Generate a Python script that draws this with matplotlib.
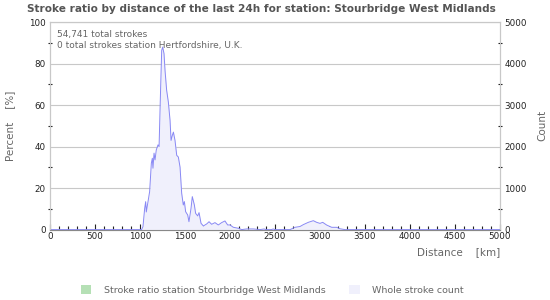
import matplotlib
matplotlib.use("Agg")
import matplotlib.pyplot as plt
from matplotlib.patches import Patch
from matplotlib.ticker import MultipleLocator

title = "Stroke ratio by distance of the last 24h for station: Stourbridge West Midlands"
info_lines = ["54,741 total strokes", "0 total strokes station Hertfordshire, U.K."]
legend_labels = ["Stroke ratio station Stourbridge West Midlands", "Whole stroke count"]

# Whole stroke count by distance (km)
distance_km = [0, 1018, 1033, 1052, 1063, 1070, 1089, 1107, 1126, 1137, 1144, 1156, 1167,
               1181, 1200, 1212, 1226, 1241, 1252, 1267, 1278, 1296, 1315, 1334, 1345, 1359,
               1371, 1389, 1408, 1426, 1445, 1463, 1481, 1493, 1507, 1530, 1544, 1567, 1581,
               1604, 1618, 1641, 1656, 1678, 1704, 1741, 1767, 1796, 1833, 1870, 1907, 1944,
               1974, 2000, 2037, 2093, 2130, 2185, 2260, 2333, 2380, 2400, 2460, 2480, 2500,
               2667, 2722, 2778, 2815, 2870, 2926, 2963, 3000, 3030, 3074, 3130, 3185, 3222,
               3278, 5000]
stroke_count = [0, 0, 70, 514, 674, 425, 674, 915, 1600, 1720, 1480, 1843, 1680,
                1923, 2043, 2000, 3160, 4320, 4400, 4240, 3840, 3360, 3075, 2630, 2150, 2270,
                2350, 2150, 1790, 1750, 1505, 877, 594, 675, 432, 352, 191, 514, 795,
                594, 392, 330, 410, 152, 88, 136, 190, 128, 168, 112, 168, 208,
                112, 112, 56, 32, 0, 16, 16, 0, 15, 0, 0, 15, 0,
                0, 55, 75, 120, 175, 215, 175, 150, 175, 110, 55, 55, 20,
                0, 0]
# Stroke ratio station (percent) - all zero
ratio_pct = [0 for _ in distance_km]

fig = plt.figure(figsize=(5.5, 3.0), dpi=100)
ax = fig.add_axes([50/550, 1-229.6/300, 450/550, (229.6-22.2)/300])
ax2 = ax.twinx()

txt = "#666666"
tickc = "#222222"

ax2.fill_between(distance_km, stroke_count, 0, color="#f0f0fc", lw=0)
ax2.plot(distance_km, stroke_count, color="#8888f4", lw=0.7)
ax.plot(distance_km, ratio_pct, color="#b5e0b5", lw=0)

ax.set_xlim(0, 5000)
ax.set_ylim(0, 100)
ax2.set_ylim(0, 5000)
ax.set_zorder(ax2.get_zorder() - 1)
ax2.patch.set_visible(False)

ax.xaxis.set_major_locator(MultipleLocator(500))
ax.xaxis.set_minor_locator(MultipleLocator(100))
ax.yaxis.set_major_locator(MultipleLocator(20))
ax.yaxis.set_minor_locator(MultipleLocator(10))
ax2.yaxis.set_major_locator(MultipleLocator(1000))
ax2.yaxis.set_minor_locator(MultipleLocator(500))

ax.grid(axis="y", which="major", color="#c8c8c8", lw=0.8)
ax.tick_params(axis="x", which="major", direction="in", length=4.5, width=0.8, color=tickc,
               labelsize=6.3, labelcolor=tickc, pad=2)
ax.tick_params(axis="x", which="minor", direction="in", length=3, width=0.8, color=tickc)
ax.tick_params(axis="y", which="major", direction="in", length=0, labelsize=6.3, labelcolor=tickc, pad=3)
ax.tick_params(axis="y", which="minor", direction="inout", length=3, width=0.8, color=tickc)
ax2.tick_params(axis="y", which="major", direction="in", length=0, labelsize=6.3, labelcolor=tickc, pad=3)
ax2.tick_params(axis="y", which="minor", direction="inout", length=3, width=0.8, color=tickc)

for a in (ax, ax2):
    for s in a.spines.values():
        s.set_color("#c8c8c8")
        s.set_linewidth(0.8)
ax2.spines["bottom"].set_color("#888888")

ax.set_xlabel("Distance    [km]", fontsize=7.5, color=txt, loc="right", labelpad=4)
ax.set_ylabel("Percent    [%]", fontsize=7.5, color=txt, labelpad=10)
ax2.set_ylabel("Count", fontsize=7.5, color=txt, labelpad=8)

ax.text(0.016, 0.96, info_lines[0], transform=ax.transAxes, fontsize=6.5, color=txt, va="top")
ax.text(0.016, 0.91, info_lines[1], transform=ax.transAxes, fontsize=6.5, color=txt, va="top")

fig.text(261/550, 1-9/300, title, fontsize=7.6, fontweight="bold", color="#555555", ha="center", va="center")

handles = [Patch(facecolor="#b5e0b5", edgecolor="none"), Patch(facecolor="#f0f0fc", edgecolor="none")]
fig.legend(handles, legend_labels, loc="center", bbox_to_anchor=(0.495, 10/300), ncol=2, frameon=False,
           fontsize=6.8, labelcolor=txt, handlelength=1.1, handleheight=1.1, handletextpad=1.3,
           columnspacing=2.5)

fig.savefig("out.png", dpi=100)
